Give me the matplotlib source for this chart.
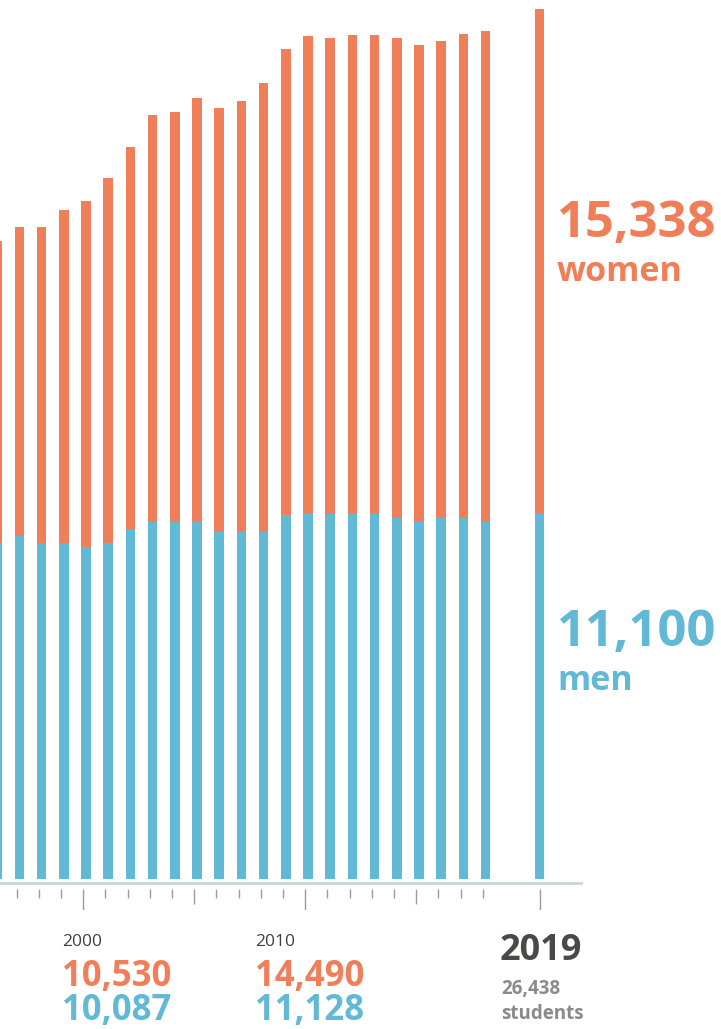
import matplotlib
matplotlib.use("Agg")
import matplotlib.pyplot as plt

# student numbers by year
years = list(range(1996, 2020))
men = [10214, 10436, 10214, 10214, 10087, 10214, 10640, 10862, 10862, 10862,
       10558, 10558, 10558, 11066, 11128, 11100, 11100, 11100, 10984, 10862,
       10984, 10984, 10862, 11100]
women = [9180, 9385, 9607, 10124, 10530, 11096, 11613, 12364, 12455, 12880,
         12880, 13093, 13640, 14166, 14490, 14466, 14558, 14558, 14582, 14492,
         14491, 14704, 14917, 15338]
label_years = [2000, 2010]

ORANGE = "#EF7E59"
BLUE = "#62B9D5"
W, H = 721, 1029

plt.rcParams['font.family'] = ['Open Sans', 'DejaVu Sans']

fig = plt.figure(figsize=(W / 100, H / 100), dpi=100)

# axes spans pixel x 0..583, y 0..910 ; baseline of bars at pixel 879
px_per_year = 22.2
units_per_px = 30.4
x0 = 2000 - 86 / px_per_year
ax = fig.add_axes([0, (H - 910) / H, 583 / W, 910 / H])
ax.set_xlim(x0, x0 + 583 / px_per_year)
ax.set_ylim(-(910 - 879) * units_per_px, 879 * units_per_px)
ax.axis("off")

# 2019 is pushed right, away from the series
pos = [y if y < 2019 else 2020.43 for y in years]
ax.bar(pos, men, width=0.43, color=BLUE, linewidth=0)
ax.bar(pos, women, width=0.43, bottom=men, color=ORANGE, linewidth=0)

# axis line and ticks
ax.axhline(-4 * units_per_px, color="#C9D3DB", linewidth=1.9)
for y, p in zip(years, pos):
    tx = p - 0.13 if y < 2019 else p
    if y in (2000, 2010, 2019):
        end = 31
    elif y % 5 == 0:
        end = 25
    else:
        end = 19
    ax.vlines(tx, -10 * units_per_px, -end * units_per_px, color="#9C9C9C", linewidth=1.0)


def ftext(x, y, s, **kw):
    fig.text(x / W, 1 - y / H, s, va="baseline", ha="left", **kw)


# right labels for 2019
ftext(556, 237, f"{women[-1]:,}", fontsize=36.5, fontweight="bold", color=ORANGE)
ftext(557, 281, "women", fontsize=24.5, fontweight="bold", color=ORANGE)
ftext(556, 646, f"{men[-1]:,}", fontsize=36.5, fontweight="bold", color=BLUE)
ftext(557, 690, "men", fontsize=24.5, fontweight="bold", color=BLUE)

# bottom labels
for ly, lx in zip(label_years, [62, 255]):
    i = years.index(ly)
    ftext(lx, 946, str(ly), fontsize=12.5, color="#3E3E3E")
    ftext(lx, 986, f"{women[i]:,}", fontsize=25, fontweight="bold", color=ORANGE)
    ftext(lx, 1020, f"{men[i]:,}", fontsize=25, fontweight="bold", color=BLUE)

ftext(500, 960, str(years[-1]), fontsize=26, fontweight="bold", color="#4B4946")
ftext(501, 994, f"{men[-1] + women[-1]:,}", fontsize=13.5, fontweight="bold", color="#8A8A8A")
ftext(501, 1019, "students", fontsize=13.5, fontweight="bold", color="#8A8A8A")

fig.savefig("out.png", dpi=100)
